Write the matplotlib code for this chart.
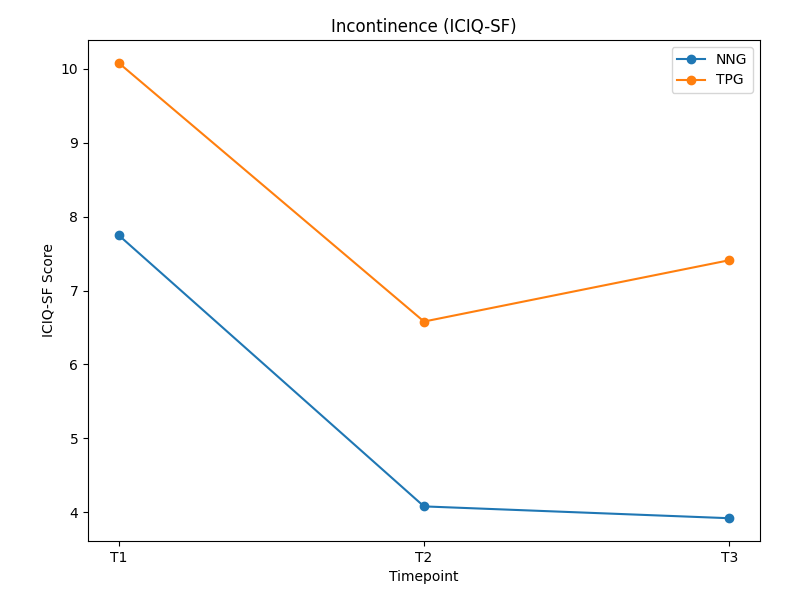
import matplotlib
matplotlib.use("Agg")
import matplotlib.pyplot as plt

timepoints = ["T1", "T2", "T3"]
nng = [7.75, 4.08, 3.92]
tpg = [10.08, 6.58, 7.41]

fig = plt.figure(figsize=(7.92, 6.07), dpi=100)
ax = fig.add_axes([88/792, 1-541/607, (760-88)/792, (541-40)/607])
ax.plot(timepoints, nng, marker="o", label="NNG")
ax.plot(timepoints, tpg, marker="o", label="TPG")
ax.set_title("Incontinence (ICIQ-SF)")
ax.set_xlabel("Timepoint")
ax.set_ylabel("ICIQ-SF Score")
ax.legend()
fig.savefig("out.png", dpi=100)
